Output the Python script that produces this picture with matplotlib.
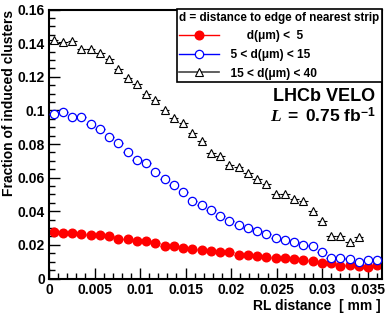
import numpy as np
import matplotlib
matplotlib.use("Agg")
import matplotlib.pyplot as plt
from matplotlib.ticker import MultipleLocator, FixedLocator
from matplotlib.lines import Line2D

plt.rcParams['font.family'] = ['Liberation Sans', 'DejaVu Sans']
plt.rcParams['font.weight'] = 'bold'
plt.rcParams['mathtext.fontset'] = 'custom'
plt.rcParams['mathtext.rm'] = 'Liberation Sans:bold'
plt.rcParams['mathtext.bf'] = 'Liberation Sans:bold'
plt.rcParams['mathtext.it'] = 'Liberation Serif:italic'

# ---- data ----
bin_width = 0.001016
n_bins = 36
rl_centers = (np.arange(n_bins) + 0.5) * bin_width

frac_d_lt5 = [0.0275, 0.0273, 0.0269, 0.0267, 0.0259, 0.0261, 0.0255, 0.0237, 0.0233,
              0.0221, 0.0221, 0.0211, 0.0195, 0.0192, 0.0183, 0.0177, 0.0170, 0.0162,
              0.0160, 0.0156, 0.0142, 0.0140, 0.0136, 0.0128, 0.0119, 0.0120, 0.0116,
              0.0110, 0.0106, 0.0094, 0.0090, 0.0074, 0.0080, 0.0074, 0.0067, 0.0080]

frac_d_5_15 = [0.0979, 0.0989, 0.0963, 0.0960, 0.0918, 0.0888, 0.0840, 0.0805, 0.0755,
               0.0704, 0.0689, 0.0634, 0.0590, 0.0557, 0.0517, 0.0460, 0.0437, 0.0410,
               0.0373, 0.0342, 0.0318, 0.0302, 0.0283, 0.0265, 0.0241, 0.0228, 0.0218,
               0.0199, 0.0192, 0.0157, 0.0124, 0.0120, 0.0114, 0.0098, 0.0108, 0.0110]

frac_d_15_40 = [0.1420, 0.1406, 0.1410, 0.1366, 0.1364, 0.1340, 0.1305, 0.1247, 0.1192,
                0.1156, 0.1096, 0.1061, 0.1003, 0.0957, 0.0924, 0.0866, 0.0820, 0.0745,
                0.0730, 0.0676, 0.0661, 0.0626, 0.0592, 0.0561, 0.0505, 0.0503, 0.0471,
                0.0459, 0.0402, 0.0344, 0.0253, 0.0253, 0.0217, 0.0247]

series_labels = ["       d(μm) <  5", "  5 < d(μm) < 15", "  15 < d(μm) < 40"]
legend_title = "d = distance to edge of nearest strip"

xticks = [0, 0.005, 0.01, 0.015, 0.02, 0.025, 0.03, 0.035]
xtick_labels = ["0", "0.005", "0.01", "0.015", "0.02", "0.025", "0.03", "0.035"]
yticks = [0, 0.02, 0.04, 0.06, 0.08, 0.10, 0.12, 0.14, 0.16]
ytick_labels = ["0", "0.02", "0.04", "0.06", "0.08", "0.1", "0.12", "0.14", "0.16"]

# ---- figure ----
fig = plt.figure(figsize=(3.92, 3.18), dpi=100)
W, H = 392, 318
x0, x1, yt, yb = 49, 382, 9.5, 278.5
ax = fig.add_axes([x0 / W, 1 - yb / H, (x1 - x0) / W, (yb - yt) / H])

xerr = bin_width / 2
ax.errorbar(rl_centers, frac_d_lt5, xerr=xerr, fmt='o', color='red', ms=6.2,
            mec='red', mfc='red', elinewidth=1.0, capsize=0)
ax.errorbar(rl_centers, frac_d_5_15, xerr=xerr, fmt='o', color='blue', ms=6,
            mec='blue', mfc='white', mew=0.9, elinewidth=1.0, capsize=0, zorder=3)
ax.errorbar(rl_centers[:len(frac_d_15_40)], frac_d_15_40, xerr=xerr, fmt='^',
            color='black', ms=5.5, mec='black', mfc='white', mew=0.8,
            elinewidth=0.8, capsize=0, zorder=3)

ax.set_xlim(0, n_bins * bin_width)
ax.set_ylim(0, 0.16)

ax.xaxis.set_major_locator(FixedLocator(xticks))
ax.set_xticklabels(xtick_labels)
ax.xaxis.set_minor_locator(MultipleLocator(0.001))
ax.yaxis.set_major_locator(FixedLocator(yticks))
ax.set_yticklabels(ytick_labels)
ax.yaxis.set_minor_locator(MultipleLocator(0.005))

ax.tick_params(which='both', direction='in', top=False, right=False, width=1.0)
ax.tick_params(which='major', length=8, labelsize=10, pad=3)
ax.tick_params(which='minor', length=4)
for lab in ax.get_xticklabels() + ax.get_yticklabels():
    lab.set_fontweight('bold')
for sp in ax.spines.values():
    sp.set_linewidth(1.5)

ax.set_xlabel("RL distance  [ mm ]", fontsize=10, fontweight='bold', loc='right')
ax.xaxis.set_label_coords(0.995, -0.075)
ax.set_ylabel("Fraction of induced clusters", fontsize=10, fontweight='bold', loc='top')
ax.yaxis.set_label_coords(-0.099, 1.0)

handles = [
    Line2D([], [], color='red', marker='o', ms=6.2, mfc='red', mec='red', lw=1.0),
    Line2D([], [], color='blue', marker='o', ms=6, mfc='white', mec='blue', mew=0.9, lw=1.0),
    Line2D([], [], color='#444444', marker='^', ms=5.5, mfc='white', mec='black', mew=0.8, lw=1.2),
]
leg = ax.legend(handles=handles, labels=series_labels, title=legend_title,
                loc='upper right', bbox_to_anchor=(1.0, 1.0), borderaxespad=0,
                fancybox=False, framealpha=1, edgecolor='black', fontsize=8.6,
                title_fontproperties={'size': 8.4, 'weight': 'bold'},
                handlelength=3.3, handletextpad=0.45, labelspacing=0.55,
                borderpad=0.2, alignment='left')
leg.get_frame().set_linewidth(1.2)
for t in leg.get_texts():
    t.set_fontweight('bold')

ax.text(0.98, 0.677, "LHCb VELO", transform=ax.transAxes, ha='right', va='center',
        fontsize=13, fontweight='bold')
ax.text(0.98, 0.603, r"$\mathit{L}\ \mathrm{=\ 0.75\ fb}^{\mathrm{-1}}$",
        transform=ax.transAxes, ha='right', va='center', fontsize=12.5)

fig.savefig("out.png", dpi=100)
